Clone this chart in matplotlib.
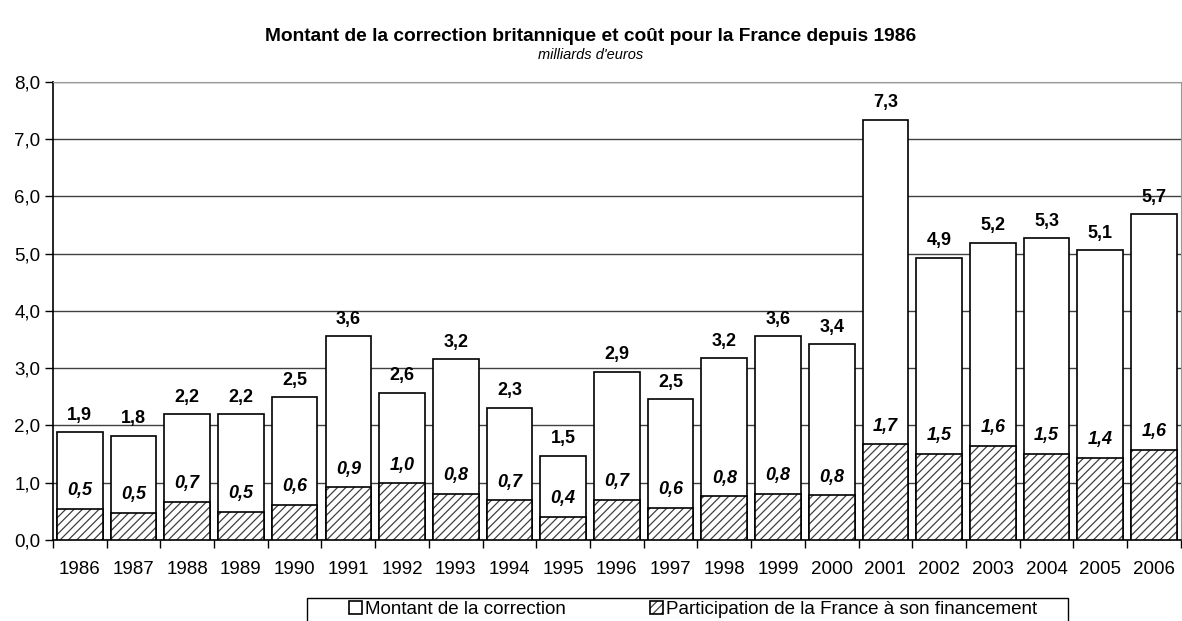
import matplotlib.pyplot as plt
from matplotlib.patches import Rectangle

# data (milliards d'euros)
years = ['1986', '1987', '1988', '1989', '1990', '1991', '1992', '1993', '1994', '1995', '1996',
         '1997', '1998', '1999', '2000', '2001', '2002', '2003', '2004', '2005', '2006']
correction = [1.88, 1.82, 2.20, 2.20, 2.49, 3.56, 2.57, 3.16, 2.31, 1.47, 2.94,
              2.46, 3.17, 3.56, 3.42, 7.34, 4.93, 5.19, 5.27, 5.06, 5.69]
france = [0.54, 0.48, 0.66, 0.49, 0.62, 0.92, 0.99, 0.80, 0.69, 0.40, 0.70,
          0.56, 0.76, 0.80, 0.78, 1.67, 1.51, 1.64, 1.51, 1.43, 1.57]


def fr(v):
    return ('%.1f' % v).replace('.', ',')


plt.rcParams['font.family'] = ['Liberation Sans', 'DejaVu Sans']
plt.rcParams['hatch.linewidth'] = 0.9

W, H = 1182, 621
fig = plt.figure(figsize=(W / 100, H / 100), dpi=100)
ax = fig.add_axes([0.0448, 0.1304, 0.9542, 0.738])

x = range(len(years))
b1 = ax.bar(x, correction, width=0.85, color='white', edgecolor='black', linewidth=1.2,
            zorder=2, label='Montant de la correction')
b2 = ax.bar(x, france, width=0.85, color='white', edgecolor='black', hatch='////',
            linewidth=1.2, zorder=3, label='Participation de la France à son financement')
for p in b2:
    p._hatch_color = (0.25, 0.25, 0.25, 1)

for i, (c, f) in enumerate(zip(correction, france)):
    ax.annotate(fr(c), (i, c), xytext=(0, 6), textcoords='offset points',
                ha='center', va='bottom', fontsize=13, fontweight='bold')
    ax.annotate(fr(f), (i, f), xytext=(0, 7), textcoords='offset points',
                ha='center', va='bottom', fontsize=13, fontweight='bold', style='italic')

ax.set_xlim(-0.5, len(years) - 0.5)
ax.set_ylim(0, 8)
ax.set_yticks(range(9))
ax.set_yticklabels([fr(v) for v in range(9)], fontsize=13.5)
ax.set_xticks(list(x))
ax.set_xticklabels(years, fontsize=13.5)
ax.tick_params(axis='x', length=0, pad=15)
ax.set_xticks([i - 0.5 for i in range(len(years) + 1)], minor=True)
ax.tick_params(axis='x', which='minor', length=6, direction='out', width=1)
ax.tick_params(axis='y', length=6, direction='out', width=1, pad=3)
ax.grid(axis='y', color='#404040', linewidth=1, zorder=0)
ax.set_axisbelow(True)
for s in ['top', 'right']:
    ax.spines[s].set_color('#999999')
for s in ['left', 'bottom']:
    ax.spines[s].set_color('black')
    ax.spines[s].set_linewidth(1.2)

fig.text(0.5, 0.942, 'Montant de la correction britannique et coût pour la France depuis 1986',
         ha='center', va='center', fontsize=13.8, fontweight='bold')
fig.text(0.5, 0.911, "milliards d'euros", ha='center', va='center', fontsize=10.5, style='italic')

# legend frame drawn as a box running off the bottom edge
fig.patches.append(Rectangle((307 / W, -0.02), (1068 - 307) / W, 0.02 + (621 - 598) / H,
                             transform=fig.transFigure, facecolor='white', edgecolor='black',
                             linewidth=1))
fig.legend(handles=[b1, b2], loc='upper left', bbox_to_anchor=(349 / W, 1 - 601 / H), ncol=2,
           fontsize=13.5, frameon=False, handlelength=0.7, handleheight=0.7,
           handletextpad=0.15, columnspacing=4.5, borderpad=0, borderaxespad=0)

fig.savefig('out.png', dpi=100)
